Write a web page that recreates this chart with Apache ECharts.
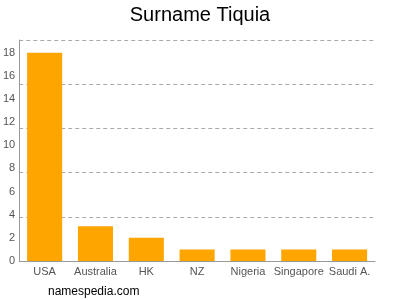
<!DOCTYPE html>
<html><head><meta charset="utf-8">
<script src="https://cdn.jsdelivr.net/npm/echarts@6.0.0/dist/echarts.min.js"></script>
<style>html,body{margin:0;padding:0;background:#fff}#c{width:400px;height:300px}</style>
</head><body><div id="c"></div>
<script>
const categories = ['USA','Australia','HK','NZ','Nigeria','Singapore','Saudi A.'];
const values = [18, 3, 2, 1, 1, 1, 1];
const yMax = 19.1;
const yStep = 2;
const title = 'Surname Tiquia';
const footer = 'namespedia.com';

const chart = echarts.init(document.getElementById('c'), null, {renderer:'canvas'});
chart.setOption({
  animation:false,
  backgroundColor:'#fff',
  title:[{text:title, left:'center', top:0, textStyle:{fontFamily:'Liberation Sans, Arial', fontSize:20, fontWeight:'normal', color:'#000'}},
         {text:footer, left:43, top:281, textStyle:{fontFamily:'Liberation Sans, Arial', fontSize:12, fontWeight:'normal', color:'#000'}}],
  grid:{left:18, right:25, top:40, bottom:39},
  xAxis:{type:'category', data:categories,
    axisLine:{lineStyle:{color:'#999'}}, axisTick:{show:false},
    axisLabel:{color:'#555', fontFamily:'Liberation Sans, Arial', fontSize:11, margin:5, interval:0}},
  yAxis:[{type:'value', min:0, max:yMax, interval:yStep,
    axisLine:{show:true, lineStyle:{color:'#999'}}, axisTick:{show:false},
    axisLabel:{color:'#555', fontFamily:'Liberation Sans, Arial', fontSize:11, margin:4, showMaxLabel:false},
    splitLine:{show:false}},
   {type:'value', min:0, max:5, interval:1, position:'left',
    axisLine:{show:false}, axisTick:{show:false}, axisLabel:{show:false},
    splitLine:{show:true, lineStyle:{color:'#aaa', type:[4,3]}}}],
  series:[{type:'bar', data:values, yAxisIndex:0, barCategoryGap:'31%',
    itemStyle:{color:'#FFA500'}}]
});
</script></body></html>
